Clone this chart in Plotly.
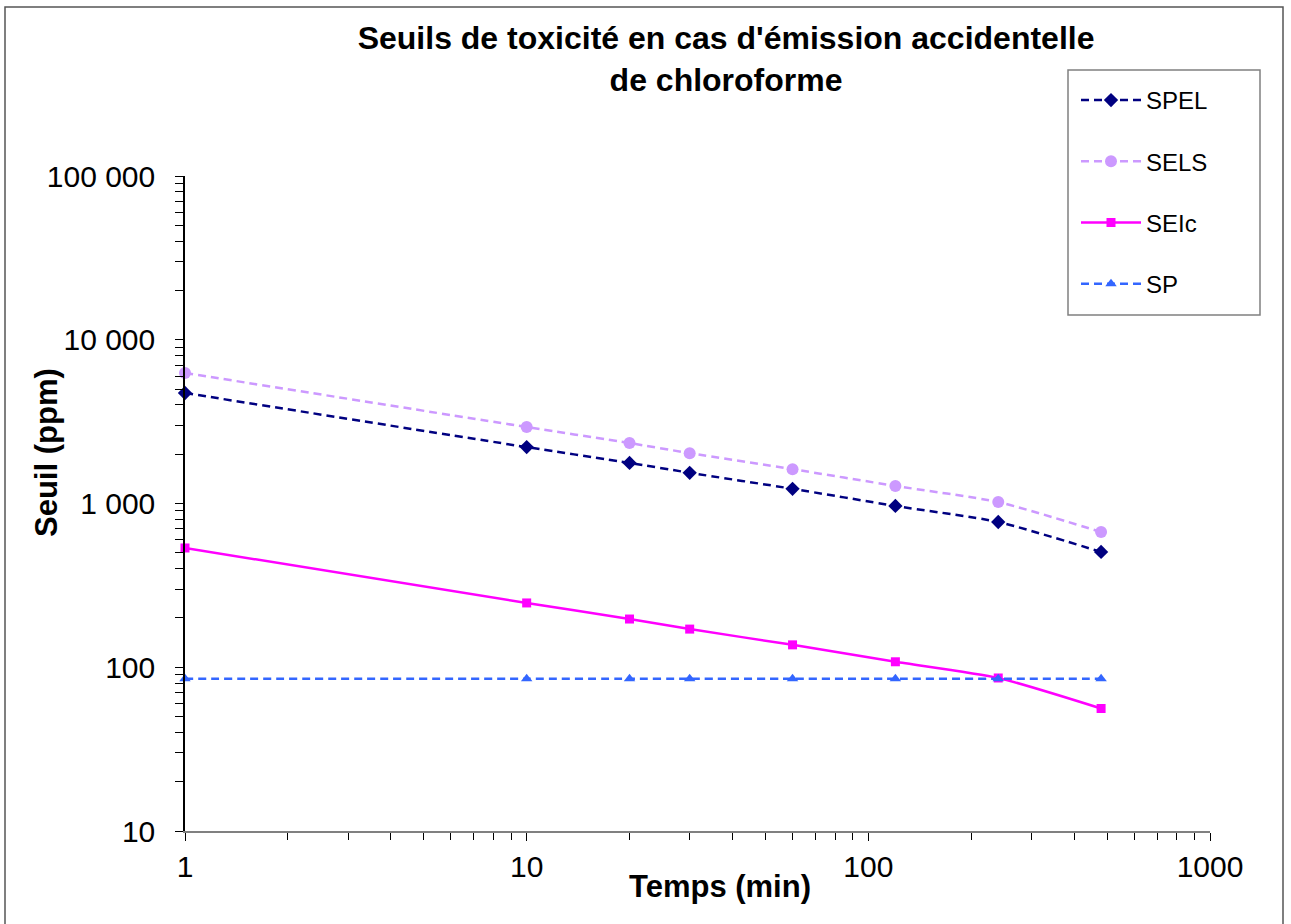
import plotly.graph_objects as go

# ---- data ----
temps_min = [1, 10, 20, 30, 60, 120, 240, 480]
spel = [4730, 2210, 1770, 1540, 1230, 966, 771, 506]
sels = [6270, 2930, 2340, 2030, 1620, 1280, 1020, 670]
seic = [535, 247, 197, 171, 137, 108, 86, 56]
sp = [85, 85, 85, 85, 85, 85, 85, 85]

x_tickvals = [1, 10, 100, 1000]
x_ticktext = ["1", "10", "100", "1000"]
y_tickvals = [10, 100, 1000, 10000, 100000]
y_ticktext = ["10", "100", "1 000", "10 000", "100 000"]

FONT = "Arial, Liberation Sans, sans-serif"

# plot-area geometry (pixels) used to convert layout positions to paper coords
L, R, T, B = 185, 1210, 176, 831
PW, PH = R - L, B - T


def px(x):
    return (x - L) / PW


def py(y):
    return (B - y) / PH


fig = go.Figure()

series = [
    ("SPEL", spel, "#000080", "8px,5px", "diamond", 11),
    ("SELS", sels, "#CC99FF", "8px,5px", "circle", 12),
    ("SEIc", seic, "#FF00FF", "solid", "square", 9),
    ("SP", sp, "#3366FF", "8px,5px", "triangle-up", 10),
]
for name, vals, col, dash, sym, size in series:
    fig.add_trace(go.Scatter(
        x=temps_min, y=vals, name=name, mode="lines+markers",
        legendgroup=name,
        line=dict(color=col, width=2.5, dash=dash, shape="spline", smoothing=0.6),
        marker=dict(symbol=sym, size=size, color=col),
        cliponaxis=False,
    ))

axis_font = dict(family=FONT, size=30, color="black")
bold31 = dict(family=FONT, size=31, color="black", weight="bold")

fig.update_layout(
    width=1291, height=924,
    margin=dict(l=L, r=1291 - R, t=T, b=924 - B),
    paper_bgcolor="white", plot_bgcolor="white",
    font=dict(family=FONT, color="black"),
    title=dict(
        text="Seuils de toxicité en cas d'émission accidentelle<br>de chloroforme",
        font=dict(family=FONT, size=32, color="black", weight="bold"),
        x=0.5624, xref="container", xanchor="center",
        y=1 - 49 / 924, yref="container", yanchor="top",
    ),
    showlegend=True,
    legend=dict(
        x=px(1076), y=py(78),
        xanchor="left", yanchor="top",
        borderwidth=0, bgcolor="rgba(0,0,0,0)",
        font=dict(family=FONT, size=24, color="black"),
        tracegroupgap=27, itemwidth=60,
    ),
    xaxis=dict(
        type="log", range=[0, 3],
        tickvals=x_tickvals, ticktext=x_ticktext,
        tickfont=axis_font,
        ticks="outside", ticklen=8, tickcolor="black", tickwidth=1,
        minor=dict(ticks="outside", ticklen=7, tickcolor="black", dtick="D1", showgrid=False),
        showline=True, linecolor="#808080", linewidth=1.5,
        showgrid=False, zeroline=False,
    ),
    yaxis=dict(
        type="log", range=[1, 5],
        tickvals=y_tickvals, ticktext=y_ticktext,
        tickfont=axis_font,
        ticks="outside", ticklen=8, tickcolor="black", tickwidth=1,
        minor=dict(ticks="outside", ticklen=8, tickcolor="black", dtick="D1", showgrid=False),
        showline=True, linecolor="black", linewidth=1.5,
        showgrid=False, zeroline=False,
        ticklabelstandoff=14,
    ),
    # overlay axes to get ticks crossing the axis lines
    xaxis2=dict(
        type="log", range=[0, 3], overlaying="x", anchor="y", side="bottom",
        tickvals=x_tickvals, showticklabels=False,
        ticks="inside", ticklen=8, tickcolor="black", tickwidth=1,
        minor=dict(ticks="inside", ticklen=7, tickcolor="black", dtick="D1", showgrid=False),
        showline=False, showgrid=False, zeroline=False,
    ),
    yaxis2=dict(
        type="log", range=[1, 5], overlaying="y", anchor="x", side="left",
        tickvals=y_tickvals, showticklabels=False,
        ticks="inside", ticklen=8, tickcolor="black", tickwidth=1,
        minor=dict(ticks="inside", ticklen=7, tickcolor="black", dtick="D1", showgrid=False),
        showline=False, showgrid=False, zeroline=False,
    ),
    annotations=[
        dict(text="Temps (min)", xref="paper", yref="paper",
             x=px(720), y=py(886), xanchor="center", yanchor="middle",
             showarrow=False, font=bold31),
        dict(text="Seuil (ppm)", xref="paper", yref="paper", textangle=-90,
             x=px(47), y=py(453), xanchor="center", yanchor="middle",
             showarrow=False, font=bold31),
    ],
    shapes=[
        # outer chart frame
        dict(type="rect", xref="paper", yref="paper",
             x0=px(5), x1=px(1283), y0=py(930), y1=py(7),
             line=dict(color="#555555", width=1.5), fillcolor="rgba(0,0,0,0)", layer="below"),
        # legend frame
        dict(type="rect", xref="paper", yref="paper",
             x0=px(1068), x1=px(1260), y0=py(315), y1=py(70),
             line=dict(color="#808080", width=1.5), fillcolor="white", layer="below"),
    ],
)

fig.write_html("out.html")
